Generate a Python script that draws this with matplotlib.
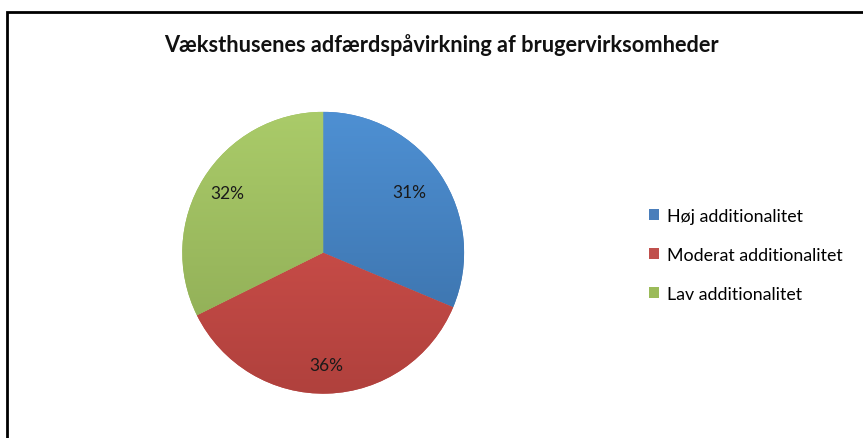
import numpy as np
import matplotlib.pyplot as plt
from matplotlib.patches import Rectangle
from matplotlib.colors import LinearSegmentedColormap

plt.rcParams['font.family'] = ['Lato', 'DejaVu Sans']

# data
categories = ["Høj additionalitet", "Moderat additionalitet", "Lav additionalitet"]
shares = [31, 36, 32]
title = "Væksthusenes adfærdspåvirkning af brugervirksomheder"

# light (top) / dark (bottom) gradient per slice
top_colors = ["#4E90D3", "#DB5550", "#AACB69"]
bottom_colors = ["#386CA3", "#B0413D", "#8BA853"]
legend_colors = ["#4A7EBB", "#C0504D", "#9BBB59"]

fig = plt.figure(figsize=(8.63, 4.39), dpi=100)

# chart frame (left and top edges visible, rest clipped)
fig.patches.append(Rectangle((6.5 / 863, -0.2), 1.2, 0.2 + 1 - 12.5 / 439,
                             transform=fig.transFigure, fill=False,
                             edgecolor="black", linewidth=2))

ax = fig.add_axes([0.211, 0.101, 0.327, 0.642])
wedges, texts, autotexts = ax.pie(shares, colors=legend_colors, startangle=90,
                                  counterclock=False, autopct="%1.0f%%",
                                  pctdistance=0.8,
                                  textprops=dict(fontsize=12.5, color="#1a1a1a"))

grad = np.linspace(1, 0, 256).reshape(-1, 1)
for w, c1, c2 in zip(wedges, top_colors, bottom_colors):
    cmap = LinearSegmentedColormap.from_list("g", [c2, c1])
    im = ax.imshow(grad, extent=(-1, 1, -1, 1), cmap=cmap, vmin=0, vmax=1,
                   aspect="auto", zorder=w.get_zorder() + 0.1)
    im.set_clip_path(w)

# Excel puts the first label off-centre ("best fit")
ang = np.deg2rad(35)
autotexts[0].set_position((0.75 * np.cos(ang), 0.75 * np.sin(ang)))
for t in autotexts:
    t.set_zorder(5)

ax.set_xlim(-1, 1)
ax.set_ylim(-1, 1)
ax.set_aspect("equal")
ax.axis("off")

fig.text(0.512, 1 - 45 / 439, title, ha="center", va="center",
         fontsize=15.7, fontweight="bold", color="#111111")

handles = [Rectangle((0, 0), 1, 1, facecolor=c) for c in legend_colors]
fig.legend(handles, categories, loc="center left",
           bbox_to_anchor=(633 / 863, 1 - 256 / 439), frameon=False,
           fontsize=12.8, handlelength=0.55, handleheight=0.55,
           handletextpad=0.45, labelspacing=1.3)

fig.savefig("out.png", dpi=100)
